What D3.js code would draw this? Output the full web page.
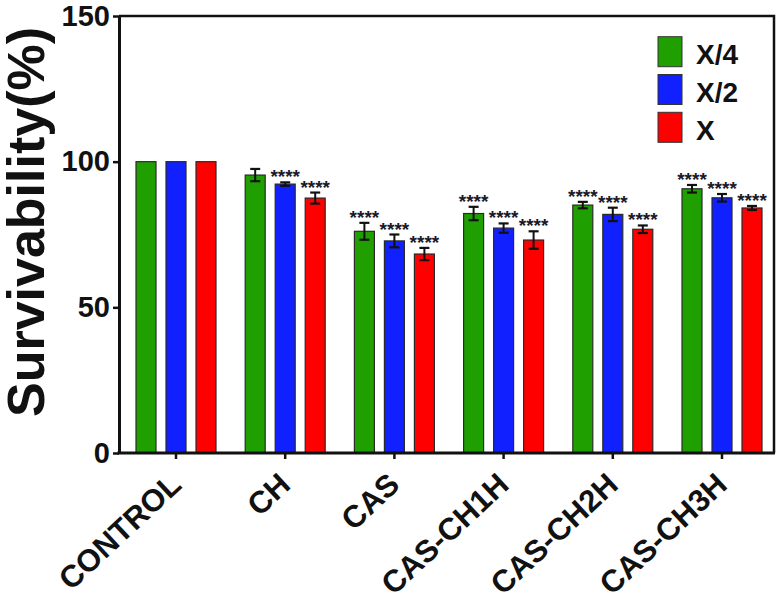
<!DOCTYPE html>
<html>
<head>
<meta charset="utf-8">
<script src="https://cdn.jsdelivr.net/npm/d3@7"></script>
<style>
  body { margin: 0; background: #fff; }
  text { font-family: "Liberation Sans", Arial, sans-serif; font-weight: bold; }
</style>
</head>
<body>
<div id="chart"></div>
<script>
// data
var categories = ['CONTROL', 'CH', 'CAS', 'CAS-CH1H', 'CAS-CH2H', 'CAS-CH3H']
var seriesNames = ['X/4', 'X/2', 'X']
var quarterVals = [100, 95.4, 76.1, 82.2, 85.1, 90.7]
var halfVals = [100, 92.3, 72.8, 77.2, 81.9, 87.6]
var fullVals = [100, 87.5, 68.3, 73.1, 76.8, 84.1]
var quarterErr = [0, 2.1, 2.9, 2.3, 1.1, 1.3]
var halfErr = [0, 0.6, 2.2, 1.6, 2.3, 1.3]
var fullErr = [0, 1.9, 2.1, 3.0, 1.3, 0.7]
var quarterSig = ['', '', '****', '****', '****', '****']
var halfSig = ['', '****', '****', '****', '****', '****']
var fullSig = ['', '****', '****', '****', '****', '****']
var yTicks = [0, 50, 100, 150]

var colors = ['#1fa000', '#1020ff', '#ff0000']

var width = 782
var height = 600
var plotLeft = 119, plotRight = 774, plotTop = 16, plotBottom = 453

var series = [
  { name: seriesNames[0], vals: quarterVals, err: quarterErr, sig: quarterSig },
  { name: seriesNames[1], vals: halfVals, err: halfErr, sig: halfSig },
  { name: seriesNames[2], vals: fullVals, err: fullErr, sig: fullSig }
]

var rows = []
series.forEach(function(s, si) {
  categories.forEach(function(c, ci) {
    rows.push({ cat: c, name: s.name, si: si, v: s.vals[ci], e: s.err[ci], sig: s.sig[ci] })
  })
})

var svg = d3.select('#chart')
  .append('svg')
  .attr('width', width)
  .attr('height', height)

var xScale = d3.scaleBand()
  .domain(categories)
  .range([121.4, 776.6])

var xInner = d3.scaleBand()
  .domain(seriesNames)
  .range([-40, 40])
  .paddingInner(1 / 3)

var yScale = d3.scaleLinear()
  .domain([0, 150])
  .range([plotBottom, plotTop])

function cx(d) {
  return xScale(d.cat) + xScale.bandwidth() / 2
}

// bars
svg.selectAll('rect.bar')
  .data(rows)
  .enter()
  .append('rect')
  .attr('class', 'bar')
  .attr('x', d => cx(d) + xInner(d.name))
  .attr('y', d => yScale(d.v))
  .attr('width', xInner.bandwidth())
  .attr('height', d => yScale(0) - yScale(d.v))
  .style('fill', d => colors[d.si])
  .style('stroke', '#2a2a2a')
  .style('stroke-width', 1.2)

// error bars
var errRows = rows.filter(d => d.e > 0)
var eb = svg.selectAll('g.err')
  .data(errRows)
  .enter()
  .append('g')
  .attr('class', 'err')
  .attr('transform', d => `translate(${cx(d) + xInner(d.name) + xInner.bandwidth() / 2},0)`)
eb.append('line')
  .attr('y1', d => yScale(d.v + d.e))
  .attr('y2', d => yScale(d.v - d.e))
  .style('stroke', '#111').style('stroke-width', 2)
eb.append('line')
  .attr('x1', -5).attr('x2', 5)
  .attr('y1', d => yScale(d.v + d.e)).attr('y2', d => yScale(d.v + d.e))
  .style('stroke', '#111').style('stroke-width', 2.2)
eb.append('line')
  .attr('x1', -5).attr('x2', 5)
  .attr('y1', d => yScale(d.v - d.e)).attr('y2', d => yScale(d.v - d.e))
  .style('stroke', '#111').style('stroke-width', 2.2)

// significance stars
svg.selectAll('text.sig')
  .data(rows.filter(d => d.sig))
  .enter()
  .append('text')
  .attr('class', 'sig')
  .attr('x', d => cx(d) + xInner(d.name) + xInner.bandwidth() / 2)
  .attr('y', d => yScale(d.v + d.e) + 1)
  .attr('text-anchor', 'middle')
  .style('font-size', '19px')
  .style('fill', '#1a1a2a')
  .text(d => d.sig)

// frame
svg.append('path')
  .attr('d', `M${plotLeft},${plotTop}H${plotRight}V${plotBottom}`)
  .style('fill', 'none')
  .style('stroke', '#111')
  .style('stroke-width', 2.5)

// Y axis
var yAxis = d3.axisLeft(yScale)
  .tickValues(yTicks)
  .tickSize(6)
  .tickPadding(3)
  .tickSizeOuter(0)
var gy = svg.append('g')
  .attr('transform', `translate(${plotLeft},0)`)
  .call(yAxis)
gy.select('.domain').style('stroke', '#111').style('stroke-width', 3)
gy.selectAll('.tick line').style('stroke', '#111').style('stroke-width', 2.5)
gy.selectAll('.tick text')
  .style('font-size', '29px')
  .style('font-family', '"Liberation Sans", Arial, sans-serif')
  .style('font-weight', 'bold')
  .style('fill', '#111')

// X axis
var xAxis = d3.axisBottom(xScale)
  .tickSize(6)
  .tickSizeOuter(0)
var gx = svg.append('g')
  .attr('transform', `translate(0,${plotBottom})`)
  .call(xAxis)
gx.select('.domain').remove()
gx.append('line')
  .attr('x1', plotLeft - 1.5).attr('x2', plotRight + 1)
  .style('stroke', '#111').style('stroke-width', 3)
gx.selectAll('.tick line').style('stroke', '#111').style('stroke-width', 2.5)
gx.selectAll('.tick text')
  .attr('y', 0)
  .attr('dy', 0)
  .attr('transform', 'translate(7,34) rotate(-43)')
  .style('text-anchor', 'end')
  .style('font-size', '31px')
  .style('font-family', '"Liberation Sans", Arial, sans-serif')
  .style('font-weight', 'bold')
  .style('fill', '#111')

// Y title
svg.append('text')
  .attr('transform', `translate(44,222) rotate(-90)`)
  .attr('text-anchor', 'middle')
  .style('font-size', '52px')
  .style('fill', '#111')
  .text('Survivability(%)')

// legend
var legend = svg.selectAll('g.legend')
  .data(seriesNames)
  .enter()
  .append('g')
  .attr('class', 'legend')
  .attr('transform', (d, i) => `translate(658,${36.7 + i * 37.8})`)
legend.append('rect')
  .attr('width', 24)
  .attr('height', 30)
  .style('fill', (d, i) => colors[i])
  .style('stroke', '#333')
legend.append('text')
  .attr('x', 38)
  .attr('y', 27.5)
  .style('font-size', '28px')
  .style('fill', '#111')
  .text(d => d)
</script>
</body>
</html>
